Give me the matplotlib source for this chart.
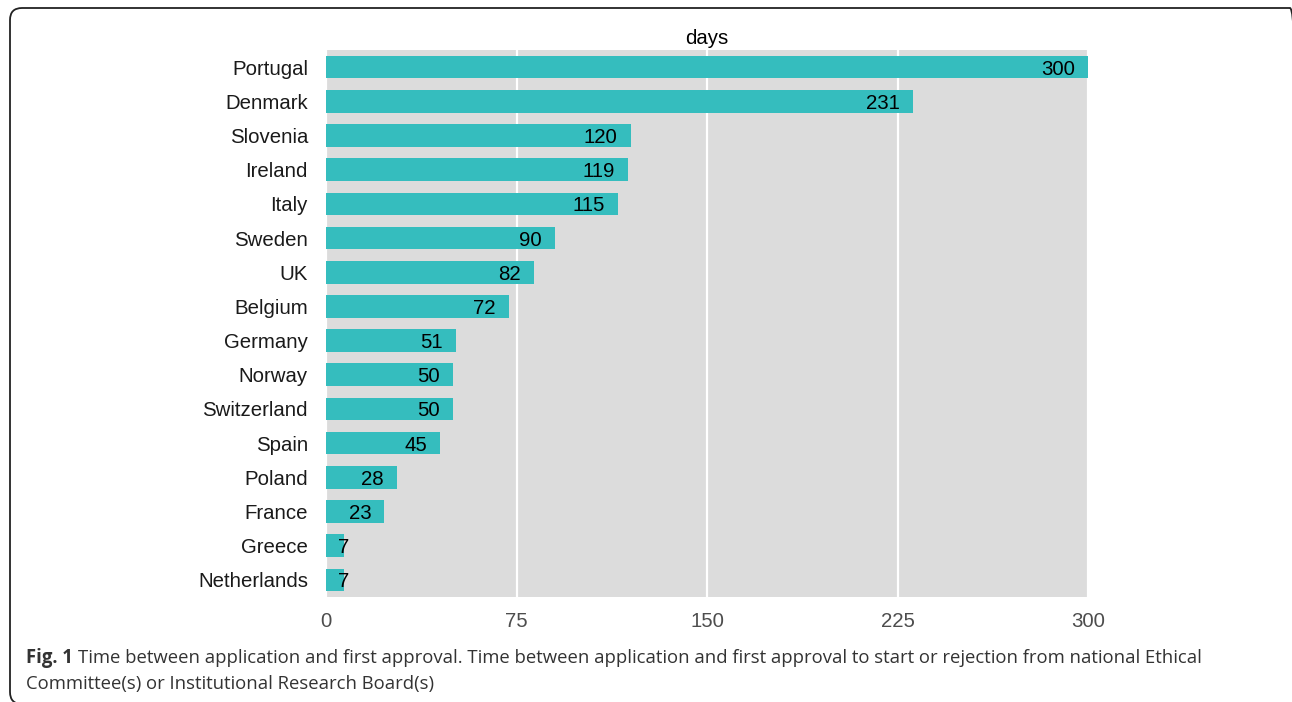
import matplotlib.pyplot as plt
from matplotlib.patches import FancyBboxPatch
from matplotlib.transforms import IdentityTransform

# Time between application and first approval (days)
countries = ["Portugal", "Denmark", "Slovenia", "Ireland", "Italy", "Sweden", "UK",
             "Belgium", "Germany", "Norway", "Switzerland", "Spain", "Poland",
             "France", "Greece", "Netherlands"]
days = [300, 231, 120, 119, 115, 90, 82, 72, 51, 50, 50, 45, 28, 23, 7, 7]
xticks = [0, 75, 150, 225, 300]

bar_col = "#35BDBE"
panel_col = "#DCDCDC"
fs = 14.7

fig = plt.figure(figsize=(12.92, 7.02), dpi=100)
ax = fig.add_axes([326 / 1292, 1 - 597 / 702, 762 / 1292, 547 / 702])
ax.set_facecolor(panel_col)

ypos = list(range(len(countries)))[::-1]
ax.barh(ypos, days, height=0.66, color=bar_col, zorder=3)

# value labels inside the bar ends
for y, v in zip(ypos, days):
    if v >= 10:
        ax.annotate(str(v), (v, y), xytext=(-9.5, 0), textcoords="offset points",
                    ha="right", va="center_baseline", fontsize=fs,
                    family="Liberation Sans", color="black", zorder=4)
    else:
        ax.annotate(str(v), (v, y), ha="center", va="center_baseline", fontsize=fs,
                    family="Liberation Sans", color="black", zorder=4)

ax.set_xlim(0, 300)
ax.set_ylim(-0.5, len(countries) - 0.5)
ax.set_xticks(xticks)
ax.set_xticklabels([str(t) for t in xticks], family="Liberation Sans",
                   fontsize=fs, color="#4D4D4D")
ax.set_yticks(ypos)
ax.set_yticklabels(countries, family="Liberation Sans", fontsize=fs, color="#1A1A1A")
for lab in ax.get_yticklabels():
    lab.set_verticalalignment("center_baseline")
ax.tick_params(axis="both", length=0)
ax.tick_params(axis="y", pad=13)
ax.tick_params(axis="x", pad=10.5)
ax.grid(axis="x", color="white", linewidth=1.6, zorder=1)
ax.set_axisbelow(True)
for s in ax.spines.values():
    s.set_visible(False)
ax.set_title("days", family="Liberation Sans", fontsize=fs, pad=4)

# rounded frame around the figure (pixel coordinates, origin bottom-left)
frame = FancyBboxPatch((10, -2), 1292, 696,
                       boxstyle="round,pad=0,rounding_size=12",
                       transform=IdentityTransform(), fill=False,
                       edgecolor="#222222", linewidth=1.3)
fig.patches.append(frame)

# caption
cap_col = "#333333"
cfs = 13.35
y1 = 1 - 658 / 702
y2 = 1 - 684 / 702
bold = fig.text(26 / 1292, y1, "Fig. 1", family="Open Sans", fontweight="bold",
                fontsize=cfs, color=cap_col, va="center")
fig.canvas.draw()
bb = bold.get_window_extent().transformed(fig.transFigure.inverted())
fig.text(bb.x1 + 5 / 1292, y1,
         "Time between application and first approval. Time between application and "
         "first approval to start or rejection from national Ethical",
         family="Open Sans", fontsize=cfs, color=cap_col, va="center")
fig.text(26 / 1292, y2, "Committee(s) or Institutional Research Board(s)",
         family="Open Sans", fontsize=cfs, color=cap_col, va="center")

fig.savefig("out.png", dpi=100)
